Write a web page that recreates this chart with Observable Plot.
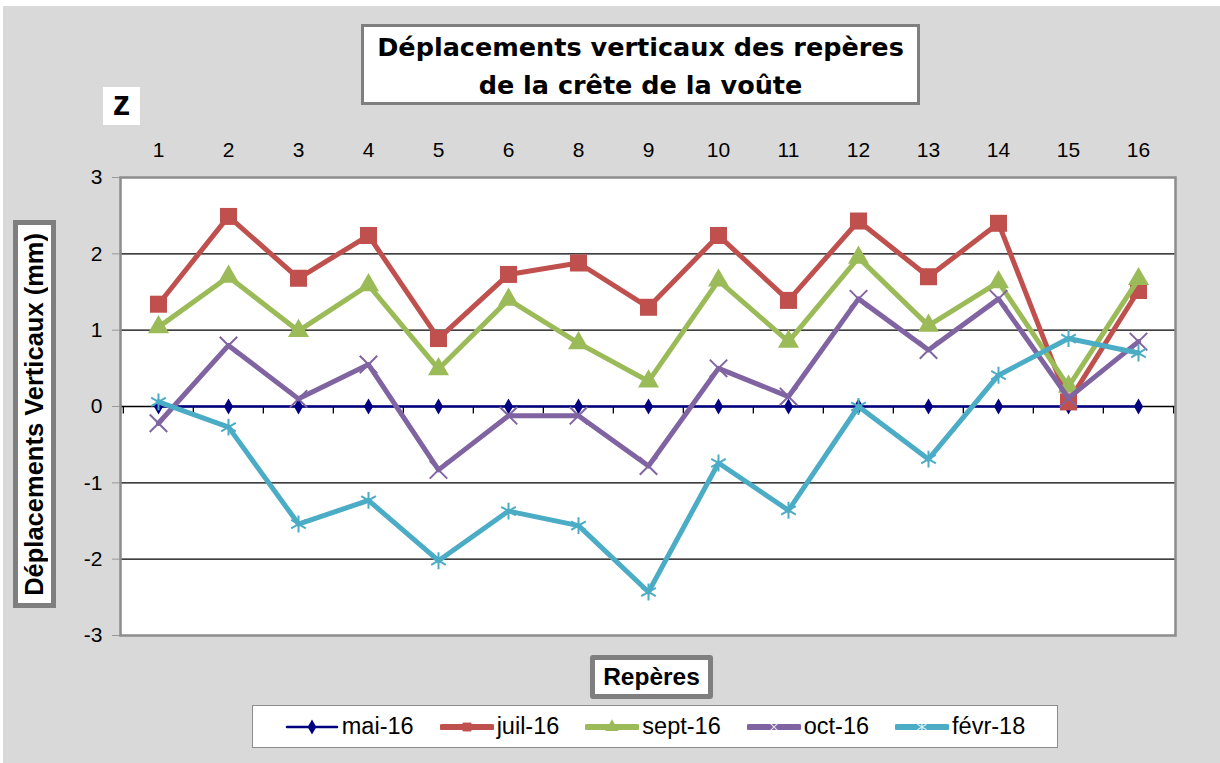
<!DOCTYPE html>
<html>
<head>
<meta charset="utf-8">
<script src="https://cdn.jsdelivr.net/npm/d3@7"></script>
<script src="https://cdn.jsdelivr.net/npm/@observablehq/plot@0.6"></script>
<style>
  html, body { margin: 0; padding: 0; background: #ffffff; }
  #page { position: relative; width: 1220px; height: 763px; overflow: hidden; background: #fff; font-family: "Liberation Sans", Arial, sans-serif; }
  #bg { position: absolute; left: 3px; top: 6px; right: 0; bottom: 0; background: #d9d9d9; }
  #chart { position: absolute; left: 0; top: 0; }
  .box { position: absolute; background: #fff; box-sizing: border-box; }
  #title { left: 361px; top: 24px; width: 559px; height: 81px; border: 3px solid #7f7f7f; font-family: "DejaVu Sans", sans-serif; font-weight: bold; font-size: 25.5px; line-height: 38px; text-align: center; padding-top: 1px; color: #000; }
  #z { left: 103px; top: 87px; width: 37px; height: 38px; font-weight: bold; font-size: 35px; line-height: 32px; text-align: center; }
  #ylab { left: 13px; top: 220px; width: 43px; height: 388px; border: 5px solid #7f7f7f; display: flex; align-items: center; justify-content: center; }
  #ylab span { writing-mode: vertical-rl; transform: rotate(180deg); font-weight: bold; font-size: 25.5px; white-space: nowrap; }
  #xlab { left: 590px; top: 655px; width: 123px; height: 44px; border: 5px solid #7f7f7f; border-radius: 3px; font-weight: bold; font-size: 24.5px; line-height: 34px; text-align: center; }
  #legend { left: 252px; top: 705px; width: 806px; height: 43px; border: 1px solid #8c8c8c; display: flex; align-items: center; justify-content: center; gap: 26px; font-size: 23.5px; }
  .item { display: flex; align-items: center; gap: 3px; }
  .item svg { display: block; }
</style>
</head>
<body>
<div id="page">
  <div id="bg"></div>
  <div id="chart"></div>
  <div id="title" class="box">Déplacements verticaux des repères<br>de la crête de la voûte</div>
  <div id="z" class="box">z</div>
  <div id="ylab" class="box"><span>Déplacements Verticaux (mm)</span></div>
  <div id="xlab" class="box">Repères</div>
  <div id="legend" class="box"></div>
</div>
<script>
// ---- data ----
const reperes = ["1","2","3","4","5","6","8","9","10","11","12","13","14","15","16"];
const seriesNames = ["mai-16","juil-16","sept-16","oct-16","févr-18"];
const mai16  = [0,0,0,0,0,0,0,0,0,0,0,0,0,0,0];
const juil16 = [1.34, 2.49, 1.68, 2.24, 0.89, 1.73, 1.88, 1.30, 2.24, 1.39, 2.43, 1.70, 2.40, 0.06, 1.52];
const sept16 = [1.04, 1.70, 0.99, 1.59, 0.49, 1.40, 0.83, 0.33, 1.65, 0.85, 1.95, 1.06, 1.63, 0.26, 1.67];
const oct16  = [-0.22, 0.80, 0.10, 0.55, -0.83, -0.12, -0.12, -0.78, 0.50, 0.13, 1.41, 0.74, 1.41, 0.11, 0.85];
const fevr18 = [0.06, -0.27, -1.54, -1.23, -2.02, -1.37, -1.56, -2.43, -0.74, -1.36, 0.00, -0.69, 0.41, 0.89, 0.70];
const yTicks = [-3,-2,-1,0,1,2,3];
const gridValues = [-2,-1,1,2];

const valuesBySeries = [mai16, juil16, sept16, oct16, fevr18];

// ---- styles (not data) ----
const styles = [
  {color: "#000080", width: 2.5, symbol: "diamond", r: 4.8, filled: true},
  {color: "#C0504D", width: 5, symbol: "square", r: 9.6, filled: true},
  {color: "#9BBB59", width: 5, symbol: "triangle", r: 7.8, filled: true},
  {color: "#8064A2", width: 5, symbol: "times", r: 8, filled: false},
  {color: "#4BACC6", width: 5, symbol: "asterisk", r: 8, filled: false}
];

const W = 1220, H = 763;
const mL = 120, mR = 45, mT = 177, mB = 128;
const step = (W - mL - mR) / reperes.length;

const tables = valuesBySeries.map((vals, i) =>
  reperes.map((r, j) => ({rep: r, value: vals[j], serie: seriesNames[i]})));

const tickSymbol = {draw(ctx) { ctx.moveTo(0, 0); ctx.lineTo(0, 7); }};

const marks = [
  Plot.frame({fill: "white", stroke: null}),
  Plot.ruleY(gridValues, {stroke: "#000", strokeWidth: 1.3}),
  Plot.ruleY([0], {stroke: "#000", strokeWidth: 1.3}),
  Plot.dot(reperes, {x: d => d, y: () => 0, symbol: tickSymbol, fill: "none", stroke: "#000", strokeWidth: 1.3, dx: -step / 2}),
  Plot.dot([reperes[reperes.length - 1]], {x: d => d, y: () => 0, symbol: tickSymbol, fill: "none", stroke: "#000", strokeWidth: 1.3, dx: step / 2}),
  Plot.axisY({ticks: yTicks, tickSize: 8, tickPadding: 10, stroke: "#999", fontSize: 21, label: null, tickFormat: d => String(d)}),
  Plot.axisX({anchor: "top", tickSize: 0, tickPadding: 21, fontSize: 21, label: null})
];

tables.forEach((data, i) => {
  const s = styles[i];
  marks.push(Plot.line(data, {x: "rep", y: "value", stroke: s.color, strokeWidth: s.width, strokeLinejoin: "round", strokeLinecap: "round"}));
  if (s.filled) {
    marks.push(Plot.dot(data, {x: "rep", y: "value", symbol: s.symbol, r: s.r, fill: s.color, stroke: "none"}));
  } else {
    marks.push(Plot.dot(data, {x: "rep", y: "value", symbol: s.symbol, r: s.r, fill: "none", stroke: s.color, strokeWidth: 2}));
  }
});

marks.push(Plot.frame({stroke: "#8c8c8c", strokeWidth: 2.5}));

const chart = Plot.plot({
  width: W, height: H,
  marginLeft: mL, marginRight: mR, marginTop: mT, marginBottom: mB,
  style: {background: "transparent", fontFamily: "'Liberation Sans', Arial, sans-serif", fontSize: "21px", color: "#000", overflow: "visible"},
  x: {type: "point", domain: reperes, padding: 0.5},
  y: {domain: [-3, 3]},
  marks
});
document.getElementById("chart").appendChild(chart);

// ---- legend ----
const legend = document.getElementById("legend");
const symbolTypes = {diamond: d3.symbolDiamond, square: d3.symbolSquare, triangle: d3.symbolTriangle, times: d3.symbolTimes, asterisk: d3.symbolAsterisk};
seriesNames.forEach((name, i) => {
  const s = styles[i];
  const item = document.createElement("div");
  item.className = "item";
  const sw = 54, sh = 20;
  const svg = d3.create("svg").attr("width", sw).attr("height", sh);
  svg.append("line").attr("x1", 2).attr("x2", sw - 2).attr("y1", sh / 2).attr("y2", sh / 2)
    .attr("stroke", s.color).attr("stroke-width", i === 0 ? 2.5 : 6).attr("stroke-linecap", "round");
  const rr = i === 0 ? 4.6 : 5;
  const path = d3.symbol(symbolTypes[s.symbol], Math.PI * rr * rr)();
  svg.append("path").attr("d", path).attr("transform", `translate(${sw / 2},${sh / 2})`)
    .attr("fill", s.filled ? s.color : "none").attr("stroke", s.filled ? "none" : "#ffffff").attr("stroke-width", s.filled ? 0 : 1.2)
    .attr("opacity", s.filled ? 1 : 0.8);
  item.appendChild(svg.node());
  const label = document.createElement("span");
  label.textContent = name;
  item.appendChild(label);
  legend.appendChild(item);
});
</script>
</body>
</html>
